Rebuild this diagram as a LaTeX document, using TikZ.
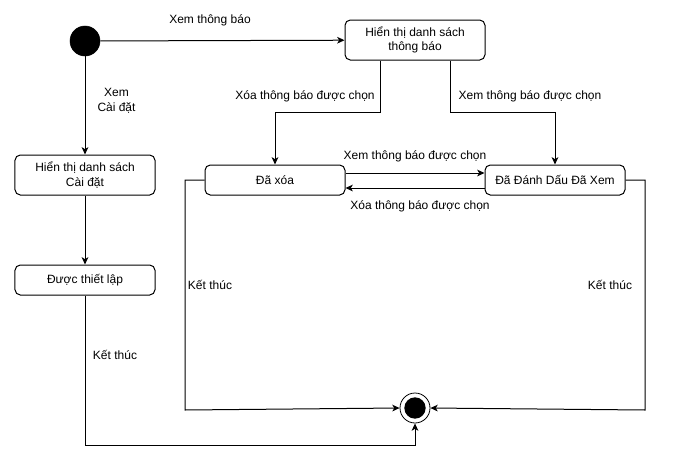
\documentclass[tikz,border=0pt]{standalone}
\usepackage{fontspec}
\setmainfont{Liberation Sans}
\usetikzlibrary{arrows.meta,positioning}

\begin{document}
\begin{tikzpicture}[
    x=0.75bp, y=-0.75bp,
    font=\fontsize{9bp}{11bp}\selectfont,
    state/.style={rectangle, rounded corners=4bp, draw=black, line width=0.75bp, fill=white,
                  minimum width=105bp, minimum height=22.5bp, align=center, inner sep=1bp},
    start/.style={circle, fill=black, draw=black, minimum size=22.5bp, inner sep=0pt},
    final/.style={circle, draw=black, line width=0.6bp, fill=white, minimum size=22.5bp, inner sep=0pt,
                  path picture={\fill[black] (path picture bounding box.center) circle (8bp);}},
    lbl/.style={align=center, inner sep=1bp},
    arrow/.style={-{Stealth[length=5.5bp,width=5bp,inset=1.5bp]}, line width=0.75bp, color=black}
  ]
    \useasboundingbox (0,0) rectangle (681,466);

    % states
    \node[start] (init) at (85,41) {};
    \node[state, minimum height=30bp] (list) at (415,40) {Hiển thị danh sách\\thông báo};
    \node[state, minimum height=30bp] (settings) at (85,175) {Hiển thị danh sách\\Cài đặt};
    \node[state] (setup) at (85,280) {Được thiết lập};
    \node[state] (deleted) at (275,180) {Đã xóa};
    \node[state] (marked) at (555,180) {Đã Đánh Dấu Đã Xem};
    \node[final] (end) at (415,408) {};

    % bends
    \coordinate (bl) at (380,112);
    \coordinate (br) at (450,112);
    \coordinate (cl) at (185,410);
    \coordinate (cr) at (645,410);
    \coordinate (cb) at (85,445);

    % transitions
    \draw[arrow] (init) -- (list);
    \node[lbl] (l1) at (210,20) {Xem thông báo};
    \draw[arrow] (init) -- node[lbl, pos=0.45, right=8bp] (l2) {Xem\\Cài đặt} (settings);
    \draw[arrow] (settings) -- (setup);
    \draw[arrow] (list.south -| bl) -- (bl) -| (deleted.north);
    \draw[arrow] (list.south -| br) -- (br) -| (marked.north);
    \node[lbl] (l3) at (305,96) {Xóa thông báo được chọn};
    \node[lbl] (l4) at (530,96) {Xem thông báo được chọn};
    \draw[arrow] ([yshift=5.25bp]deleted.east) -- ([yshift=5.25bp]marked.west);
    \node[lbl] (l5) at (415,156) {Xem thông báo được chọn};
    \draw[arrow] ([yshift=-6bp]marked.west) -- ([yshift=-6bp]deleted.east);
    \node[lbl] (l6) at (420,206) {Xóa thông báo được chọn};
    \draw[arrow] (deleted.west) -| (cl) -- (end.west);
    \draw[arrow] (marked.east) -| (cr) -- (end.east);
    \draw[arrow] (setup.south) -- (cb) -| (end.south);
    \node[lbl] (l7) at (210,285) {Kết thúc};
    \node[lbl] (l8) at (610,285) {Kết thúc};
    \node[lbl] (l9) at (115,355) {Kết thúc};
  \end{tikzpicture}
\end{document}
